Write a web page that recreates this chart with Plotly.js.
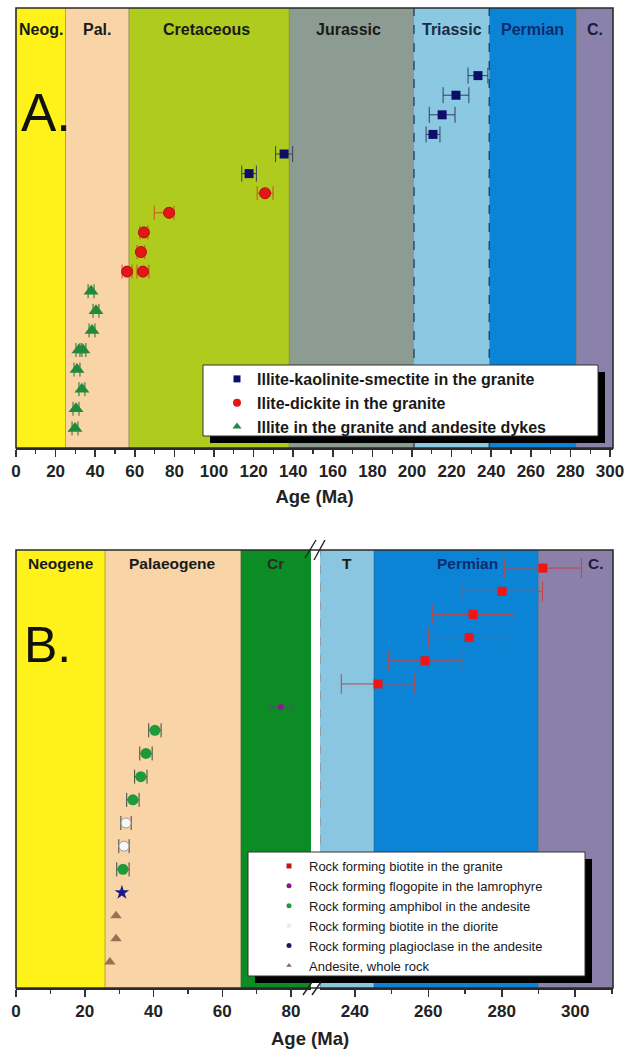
<!DOCTYPE html>
<html><head><meta charset="utf-8">
<script src="https://cdn.plot.ly/plotly-3.0.1.min.js"></script>
<style>html,body{margin:0;padding:0;background:#fff}#chart{width:626px;height:1052px}</style>
</head><body><div id="chart"></div>
<script>
// ---------------- Panel A data ----------------
const aPeriodNames = ['Neog.', 'Pal.', 'Cretaceous', 'Jurassic', 'Triassic', 'Permian', 'C.'];
const aPeriodStart = [0, 25, 57, 138, 201, 239, 283];
const aPeriodEnd   = [25, 57, 138, 201, 239, 283, 301.5];

const iksName  = 'Illite-kaolinite-smectite in the granite';
const iksAge   = [233.3, 222.2, 215.2, 210.6, 135.4, 117.7];
const iksLevel = [19, 18, 17, 16, 15, 14];
const iksErr   = [5, 6.5, 6.5, 3.5, 4.3, 3.7];

const idName     = 'Ilite-dickite in the granite';
const idAge      = [125.8, 77.3, 64.6, 63.1, 56.1, 64.1];
const idLevel    = [13, 12, 11, 10, 9, 9];
const idErrPlus  = [4, 2.5, 2, 2, 2.5, 3];
const idErrMinus = [4, 7.5, 2, 2, 2.5, 3];

const igName  = 'Illite in the granite and andesite dykes';
const igAge   = [37.9, 40.4, 38.4, 31.8, 33.8, 30.8, 33.3, 30.3, 29.8];
const igLevel = [8, 7, 6, 5, 5, 4, 3, 2, 1];
const igErr   = [1.5, 1.5, 1.5, 1.5, 1.5, 1.5, 1.5, 1.5, 1.5];

// ---------------- Panel B data ----------------
const bLeftNames  = ['Neogene', 'Palaeogene', 'Cr'];
const bLeftStart  = [0, 25.9, 65.4];
const bLeftEnd    = [25.9, 65.4, 85.8];
const bRightNames = ['T', 'Permian', 'C.'];
const bRightStart = [230.5, 245.2, 290];
const bRightEnd   = [245.2, 290, 310.3];

const bgName  = 'Rock forming biotite in the granite';
const bgAge   = [291.2, 280.1, 272.2, 271.1, 259.1, 246.3];
const bgLevel = [18, 17, 16, 15, 14, 13];
const bgErr   = [10.5, 11, 11, 11, 10, 10];

const flName  = 'Rock forming flogopite in the lamrophyre';
const flAge   = [77.0];
const flLevel = [12];
const flErr   = [3.2];

const amName  = 'Rock forming amphibol in the andesite';
const amAge   = [40.4, 37.8, 36.3, 34.0, 31.1];
const amLevel = [11, 10, 9, 8, 5];
const amErr   = [1.8, 1.8, 1.8, 1.8, 1.8];

const bdName  = 'Rock forming biotite in the diorite';
const bdAge   = [32.0, 31.4];
const bdLevel = [7, 6];
const bdErr   = [1.5, 1.5];

const plName  = 'Rock forming plagioclase in the andesite';
const plAge   = [30.8];
const plLevel = [4];

const wrName  = 'Andesite, whole rock';
const wrAge   = [29.1, 29.1, 27.3];
const wrLevel = [3, 2, 1];

// ---------------- styles ----------------
const aColors = ['#fff21a', '#f8d4a7', '#aecb1e', '#8d9c92', '#8bc8e2', '#0b84d6', '#8a82aa'];
const aLabelColors = ['#1a1a1a', '#1a1a1a', '#1a1a1a', '#1a1a1a', '#1b2a44', '#0b2c6e', '#1c1c3c'];
const bLeftColors = ['#fff21a', '#f8d4a7', '#0b8c25'];
const bRightColors = ['#8bc6e0', '#0b84d6', '#8a80aa'];
const bLeftLabelColors = ['#1a1a1a', '#1a1a1a', '#2a2a2a'];
const bRightLabelColors = ['#1a1a1a', '#0b2c6e', '#1c1c3c'];

const FN = '"Liberation Sans",Arial,sans-serif';

// plot-area geometry helpers (margins l16 r13 t8 b64)
const L = 16, R = 13, T = 8, B = 64, W = 626, H = 1052;
const PW = W - L - R, PH = H - T - B;
const px2x = p => (p - L) / PW;
const px2y = p => (H - B - p) / PH;

const aDomain = [px2y(448), 1];
const bDomain = [0, px2y(550)];

function errX(plus, minus, color, w) {
  return {type: 'data', symmetric: false, array: plus, arrayminus: minus, color: color, thickness: 1, width: w};
}

const traces = [];
// Panel A traces
traces.push({type: 'scatter', mode: 'markers', x: iksAge, y: iksLevel, xaxis: 'x', yaxis: 'y', showlegend: false,
  marker: {symbol: 'square', size: 9, color: '#0d0d6b'}, error_x: errX(iksErr, iksErr, '#34405a', 8)});
traces.push({type: 'scatter', mode: 'markers', x: idAge, y: idLevel, xaxis: 'x', yaxis: 'y', showlegend: false,
  marker: {symbol: 'circle', size: 11, color: '#e41616', line: {color: '#b01010', width: 1}}, error_x: errX(idErrPlus, idErrMinus, '#d0501c', 7)});
traces.push({type: 'scatter', mode: 'markers', x: igAge, y: igLevel, xaxis: 'x', yaxis: 'y', showlegend: false,
  marker: {symbol: 'triangle-up', size: 13, color: '#1f8a3c'}, error_x: errX(igErr, igErr, '#2c6a36', 7)});
// Panel A legend keys
traces.push({type: 'scatter', mode: 'markers', x: [null], y: [null], xaxis: 'x', yaxis: 'y', name: iksName, legend: 'legend',
  marker: {symbol: 'square', size: 7, color: '#0d0d6b'}});
traces.push({type: 'scatter', mode: 'markers', x: [null], y: [null], xaxis: 'x', yaxis: 'y', name: idName, legend: 'legend',
  marker: {symbol: 'circle', size: 8, color: '#e41616'}});
traces.push({type: 'scatter', mode: 'markers', x: [null], y: [null], xaxis: 'x', yaxis: 'y', name: igName, legend: 'legend',
  marker: {symbol: 'triangle-up', size: 8, color: '#1f8a3c'}});

// Panel B traces
traces.push({type: 'scatter', mode: 'markers', x: bgAge, y: bgLevel, xaxis: 'x3', yaxis: 'y2', showlegend: false,
  marker: {symbol: 'square', size: 9, color: '#f01414'}, error_x: errX(bgErr, bgErr, '#b8484a', 10)});
traces.push({type: 'scatter', mode: 'markers', x: flAge, y: flLevel, xaxis: 'x2', yaxis: 'y2', showlegend: false,
  marker: {symbol: 'circle', size: 6, color: '#8a1a8a'}, error_x: errX(flErr, flErr, '#7a3a8a', 6)});
traces.push({type: 'scatter', mode: 'markers', x: amAge, y: amLevel, xaxis: 'x2', yaxis: 'y2', showlegend: false,
  marker: {symbol: 'circle', size: 11, color: '#1f9a3a'}, error_x: errX(amErr, amErr, '#3a4a40', 7)});
traces.push({type: 'scatter', mode: 'markers', x: bdAge, y: bdLevel, xaxis: 'x2', yaxis: 'y2', showlegend: false,
  marker: {symbol: 'circle', size: 10, color: '#f8f8f8', line: {color: '#999', width: 1}}, error_x: errX(bdErr, bdErr, '#444', 7)});
traces.push({type: 'scatter', mode: 'markers', x: plAge, y: plLevel, xaxis: 'x2', yaxis: 'y2', showlegend: false,
  marker: {symbol: 'star', size: 11, color: '#1a1a8a'}});
traces.push({type: 'scatter', mode: 'markers', x: wrAge, y: wrLevel, xaxis: 'x2', yaxis: 'y2', showlegend: false,
  marker: {symbol: 'triangle-up', size: 10, color: '#9a7050'}});
// Panel B legend keys
const bKeys = [
  [bgName, 'square', '#c01818'], [flName, 'circle', '#8a1a8a'], [amName, 'circle', '#1f9a3a'],
  [bdName, 'circle', '#eeeeee'], [plName, 'circle', '#1a1a5a'], [wrName, 'triangle-up', '#8a6a5a']
];
bKeys.forEach(k => traces.push({type: 'scatter', mode: 'markers', x: [null], y: [null], xaxis: 'x2', yaxis: 'y2',
  name: k[0], legend: 'legend2', marker: {symbol: k[1], size: 5, color: k[2]}}));

// ---------------- shapes ----------------
const shapes = [];
aPeriodStart.forEach((s, i) => shapes.push({type: 'rect', xref: 'x', yref: 'y domain', x0: s, x1: aPeriodEnd[i], y0: 0, y1: 1,
  fillcolor: aColors[i], line: {width: 0}, layer: 'below'}));
aPeriodStart.forEach((s, i) => { if (i > 0) {
  const dashed = (i === 4 || i === 5);
  shapes.push({type: 'line', xref: 'x', yref: 'y domain', x0: s, x1: s, y0: 0, y1: 1, layer: 'below',
    line: dashed ? {color: '#223a55', width: 1.3, dash: 'dash'} : {color: 'rgba(90,80,50,0.45)', width: 1}});
}});
bLeftStart.forEach((s, i) => shapes.push({type: 'rect', xref: 'x2', yref: 'y2 domain', x0: s, x1: bLeftEnd[i], y0: 0, y1: 1,
  fillcolor: bLeftColors[i], line: {width: 0}, layer: 'below'}));
bRightStart.forEach((s, i) => shapes.push({type: 'rect', xref: 'x3', yref: 'y2 domain', x0: s, x1: bRightEnd[i], y0: 0, y1: 1,
  fillcolor: bRightColors[i], line: {width: 0}, layer: 'below'}));
bLeftStart.forEach((s, i) => { if (i > 0) shapes.push({type: 'line', xref: 'x2', yref: 'y2 domain', x0: s, x1: s, y0: 0, y1: 1, layer: 'below',
  line: {color: 'rgba(90,80,50,0.45)', width: 1}}); });
bRightStart.forEach((s, i) => shapes.push({type: 'line', xref: 'x3', yref: 'y2 domain', x0: s, x1: s, y0: 0, y1: 1, layer: 'below',
  line: i === 0 ? {color: '#8a8a8a', width: 1.3, dash: 'dash'} : {color: 'rgba(60,60,90,0.4)', width: 1}}));

// legend boxes with drop shadow
function legendBox(x0, x1, y0, y1, off) {
  shapes.push({type: 'rect', xref: 'paper', yref: 'paper', x0: px2x(x0 + off), x1: px2x(x1 + off), y0: px2y(y1 + off), y1: px2y(y0 + off),
    fillcolor: '#000', line: {width: 0}, layer: 'above'});
  shapes.push({type: 'rect', xref: 'paper', yref: 'paper', x0: px2x(x0), x1: px2x(x1), y0: px2y(y1), y1: px2y(y0),
    fillcolor: '#fff', line: {color: '#333', width: 1}, layer: 'above'});
}
legendBox(203, 598, 365, 436, 7);
legendBox(248, 585, 852, 976, 7);

// frames
shapes.push({type: 'rect', xref: 'paper', yref: 'paper', x0: 0, x1: 1, y0: aDomain[0], y1: 1, line: {color: '#2b2b2b', width: 1.6}, layer: 'above'});
shapes.push({type: 'rect', xref: 'paper', yref: 'paper', x0: 0, x1: 1, y0: 0, y1: bDomain[1], line: {color: '#2b2b2b', width: 1.6}, layer: 'above'});
// axis-break marks
[[305, 558, 316, 540], [314, 560, 325, 540], [303, 995, 312, 982], [312, 995, 321, 982]].forEach(m =>
  shapes.push({type: 'line', xref: 'paper', yref: 'paper', x0: px2x(m[0]), y0: px2y(m[1]), x1: px2x(m[2]), y1: px2y(m[3]),
    line: {color: '#222', width: 1.4}, layer: 'above'}));

// ---------------- annotations ----------------
const annotations = [];
const aLabelPos = [12.5, 41, 96, 168, 220, 261, 292.4];
aPeriodNames.forEach((n, i) => annotations.push({text: n, xref: 'x', yref: 'paper', x: aLabelPos[i], y: px2y(29), yanchor: 'middle', showarrow: false,
  font: {family: FN, size: 16, weight: 'bold', color: aLabelColors[i]}}));
const bLeftLabelPos = [12.95, 45.6, 75.5];
bLeftNames.forEach((n, i) => annotations.push({text: n, xref: 'x2', yref: 'paper', x: bLeftLabelPos[i], y: px2y(563), yanchor: 'middle', showarrow: false,
  font: {family: FN, size: 15.5, weight: 'bold', color: bLeftLabelColors[i]}}));
const bRightLabelPos = [237.9, 270.8, 305.7];
bRightNames.forEach((n, i) => annotations.push({text: n, xref: 'x3', yref: 'paper', x: bRightLabelPos[i], y: px2y(563), yanchor: 'middle', showarrow: false,
  font: {family: FN, size: 15.5, weight: 'bold', color: bRightLabelColors[i]}}));
annotations.push({text: 'A.', xref: 'paper', yref: 'paper', x: px2x(19), y: px2y(112), xanchor: 'left', yanchor: 'middle', showarrow: false,
  font: {family: FN, size: 53, color: '#111'}});
annotations.push({text: 'B.', xref: 'paper', yref: 'paper', x: px2x(22), y: px2y(645), xanchor: 'left', yanchor: 'middle', showarrow: false,
  font: {family: FN, size: 50, color: '#111'}});
annotations.push({text: 'Age (Ma)', xref: 'paper', yref: 'paper', x: px2x(310), y: px2y(1038), yanchor: 'middle', showarrow: false,
  font: {family: FN, size: 18.5, weight: 'bold', color: '#222'}});

const tickFont = {family: FN, size: 17, weight: 'bold', color: '#222'};
const xBase = {showgrid: false, zeroline: false, showline: true, linecolor: '#2b2b2b', linewidth: 1.6,
  ticks: 'outside', ticklen: 7, tickwidth: 1.5, tickcolor: '#333', tick0: 0, dtick: 20, tickfont: tickFont,
  minor: {dtick: 10, ticks: 'outside', ticklen: 4, tickwidth: 1.2, tickcolor: '#333'}, fixedrange: true};
const yBase = {showgrid: false, zeroline: false, showline: false, showticklabels: false, ticks: '', fixedrange: true};

const layout = {
  width: W, height: H,
  margin: {l: L, r: R, t: T, b: B},
  paper_bgcolor: '#fff', plot_bgcolor: 'rgba(0,0,0,0)',
  font: {family: FN, color: '#222'},
  xaxis: Object.assign({}, xBase, {anchor: 'y', domain: [0, 1], range: [0, 301.5],
    title: {text: 'Age (Ma)', standoff: 10, font: {family: FN, size: 18.5, weight: 'bold', color: '#222'}}}),
  yaxis: Object.assign({}, yBase, {anchor: 'x', domain: aDomain, range: [0, 22.45]}),
  xaxis2: Object.assign({}, xBase, {anchor: 'y2', domain: [0, px2x(311)], range: [0, 85.8]}),
  xaxis3: Object.assign({}, xBase, {anchor: 'y2', domain: [px2x(320), 1], range: [230.5, 310.3]}),
  yaxis2: Object.assign({}, yBase, {anchor: 'x2', domain: bDomain, range: [-0.12, 18.78]}),
  showlegend: true,
  legend: {x: px2x(217), y: px2y(362), xanchor: 'left', yanchor: 'top', bgcolor: 'rgba(0,0,0,0)', borderwidth: 0,
    font: {family: FN, size: 16, weight: 'bold', color: '#1a1a1a'}, traceorder: 'normal'},
  legend2: {x: px2x(269), y: px2y(851), xanchor: 'left', yanchor: 'top', bgcolor: 'rgba(0,0,0,0)', borderwidth: 0,
    font: {family: FN, size: 13, color: '#1a1a1a'}, traceorder: 'normal'},
  shapes: shapes,
  annotations: annotations
};

Plotly.newPlot('chart', traces, layout, {displayModeBar: false, staticPlot: true});
</script>
</body></html>
